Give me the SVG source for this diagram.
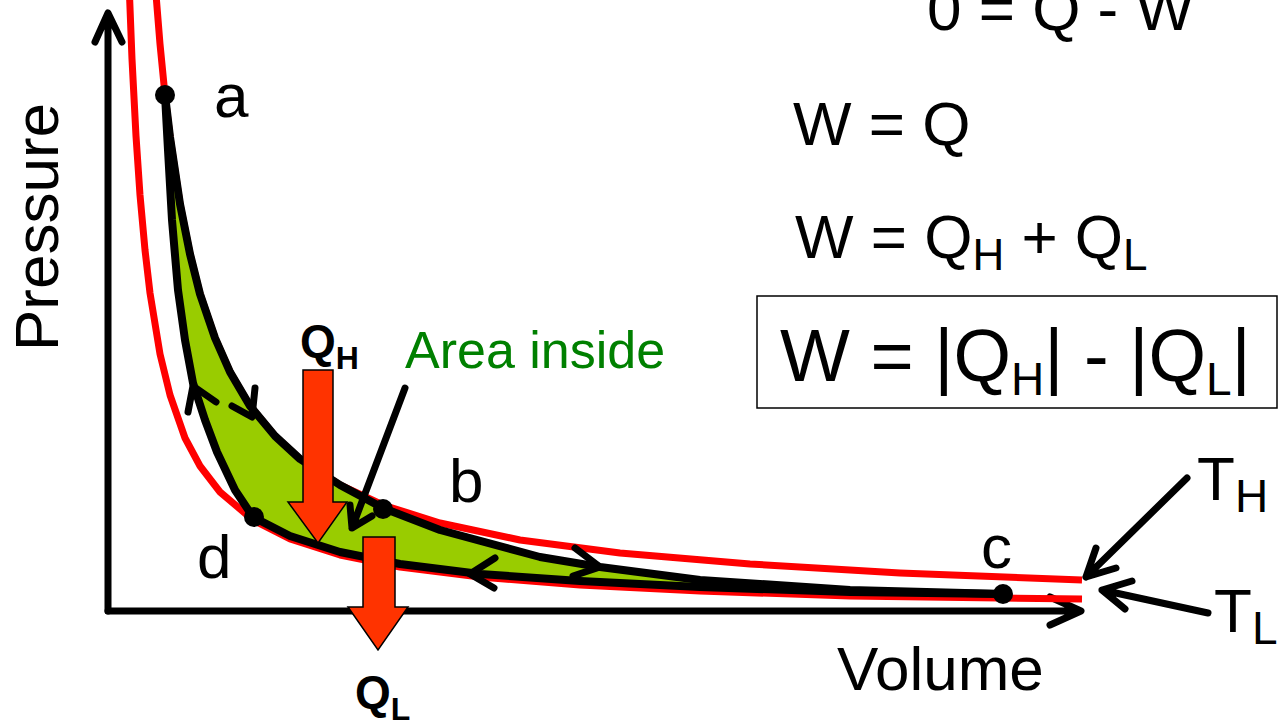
<svg xmlns="http://www.w3.org/2000/svg" width="1283" height="724" viewBox="0 0 1283 724">
<style>
text{font-family:"Liberation Sans",Arial,sans-serif;fill:#000}
.ax{fill:none;stroke:#000;stroke-width:7;stroke-linecap:round;stroke-linejoin:round}
.iso{fill:none;stroke:#ff0000;stroke-width:7;stroke-linejoin:round}
.cyc{fill:none;stroke:#000;stroke-width:8;stroke-linecap:round;stroke-linejoin:round}
.chev{fill:none;stroke:#000;stroke-width:7;stroke-linecap:round;stroke-linejoin:round}
.heat{fill:#ff3300;stroke:#000;stroke-width:1.5}
.lbl{font-size:62px}
</style>
<rect width="1283" height="724" fill="#fff"/>
<g id="axes">
<path class="ax" d="M108,611 V14 M95,42 L108,13 L122,42"/>
<path class="ax" d="M108,611 H1080 M1050,597 L1081,611 L1050,625"/>
<text class="lbl" transform="translate(58,351) rotate(-90)" font-size="63">Pressure</text>
<text class="lbl" x="837" y="690" font-size="63">Volume</text>
</g>
<g id="isotherms">
<polyline id="TH-curve" class="iso" points="155,-18 160,44 165,95 170,137 180,204 190,254 200,294 215,338 230,372 250,406 275,436 300,459 340,485 383,505 440,523 520,540 620,553 750,564 900,573 1082,580"/>
<polyline id="TL-curve" class="iso" points="129,-18 132,59 136,136 140,195 145,250 150,293 160,354 170,395 185,438 200,466 220,492 253,520 290,539 340,555 400,567 480,577 580,585 700,591 850,596 1082,599"/>
</g>
<g id="cycle">
<path d="M165,95 L170,137 L180,204 L190,254 L200,294 L215,338 L230,372 L250,406 L275,436 L300,459 L340,485 L383,508 L440,530 L540,557 L600,567 L700,580 L850,590 L1003,594 L850,592 L700,587 L580,581 L480,574 L400,564 L340,552 L290,536 L253,517 L235,490 L217,452 L205,420 L193,383 L185,340 L178,290 L172,220 L168,150 Z" fill="#99cc00" stroke="none"/>
<polyline class="cyc" points="165,95 170,137 180,204 190,254 200,294 215,338 230,372 250,406 275,436 300,459 340,485 383,508"/>
<polyline class="cyc" points="383,508 440,530 540,557 600,567 700,580 850,590 1003,594"/>
<polyline class="cyc" points="1003,594 850,592 700,587 580,581 480,574 400,564 340,552 290,536 253,517"/>
<polyline class="cyc" points="253,517 235,490 217,452 205,420 193,383 185,340 178,290 172,220 168,150 165,95"/>
<path class="chev" d="M188,412 L193,386 L216,402"/>
<path class="chev" d="M232,406 L252,417 L255,388"/>
<path class="chev" d="M575,548 L600,567 L573,576"/>
<path class="chev" d="M495,558 L470,574 L494,588"/>
</g>
<g id="a"><circle cx="165" cy="95" r="10"/><text class="lbl" x="214" y="117">a</text></g>
<g id="b"><circle cx="383" cy="509" r="10"/><text class="lbl" x="449" y="502">b</text></g>
<g id="c"><circle cx="1003" cy="594" r="10"/><text class="lbl" x="981" y="568">c</text></g>
<g id="d"><circle cx="254" cy="517" r="10"/><text class="lbl" x="197" y="578">d</text></g>
<g id="QH">
<path class="heat" d="M303,370 H333 V502 H347 L318,543 L288,502 H303 Z"/>
<text x="300" y="357" font-size="46" font-weight="bold">Q<tspan font-size="32" dy="12">H</tspan></text>
</g>
<g id="QL">
<path class="heat" d="M363,537 H395 V607 H408 L378,650 L348,607 H363 Z"/>
<text x="355" y="708" font-size="46" font-weight="bold">Q<tspan font-size="32" dy="12">L</tspan></text>
</g>
<g id="area">
<text x="405" y="368" font-size="52" style="fill:#008000">Area inside</text>
</g>
<g id="TH"><text class="lbl" x="1197" y="500">T<tspan font-size="46" dy="12">H</tspan></text></g>
<g id="TL"><text class="lbl" x="1214" y="632">T<tspan font-size="46" dy="12">L</tspan></text></g>
<g id="connectors">
<path class="chev" d="M405,388 L352,528 M350,505 L352,528 L372,516"/>
<path class="chev" d="M1187,478 L1086,577 M1096,548 L1086,577 L1116,568"/>
<path class="chev" d="M1208,613 L1102,590 M1132,581 L1102,590 L1125,609"/>
</g>
<g id="equations">
<text class="lbl" x="927" y="30">0 = Q - W</text>
<text class="lbl" x="793" y="145">W = Q</text>
<text class="lbl" x="795" y="258">W = Q<tspan font-size="44" dy="12">H</tspan><tspan dy="-12"> + Q</tspan><tspan font-size="44" dy="12">L</tspan></text>
<rect x="757" y="296" width="520" height="112" fill="none" stroke="#000" stroke-width="1.5"/>
<text x="780" y="381" font-size="74">W = |Q<tspan font-size="46" dy="14">H</tspan><tspan dy="-14">| - |Q</tspan><tspan font-size="46" dy="14">L</tspan><tspan dy="-14">|</tspan></text>
</g>
</svg>
